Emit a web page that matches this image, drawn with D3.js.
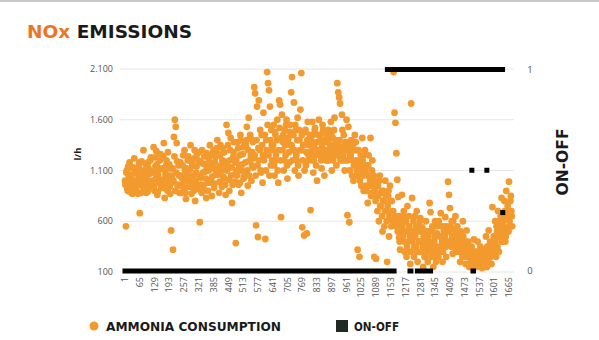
<!DOCTYPE html>
<html><head><meta charset="utf-8">
<script src="https://cdn.jsdelivr.net/npm/d3@7"></script>
<style>body{margin:0;background:#fff} svg{display:block}</style>
</head><body>
<svg id="c" width="599" height="340"></svg>
<script>
// Ammonia consumption (l/h): readings at samples 1,5,9,... (ammonia) and 3,7,11,... (ammoniaMid)
const ammoniaStep = 4;
const ammonia = [
 1000, 550,1100, 900,1050,1180, 950,1020, 870,1120,
 1220, 920,1080, 980, 870,1150, 680,1010,1190, 940,
 1300, 960,1100, 880,1040,1180, 920,1070,1230, 990,
 1000,1330, 900,1140,1290, 860,1060, 980,1200, 930,
 1120, 950,1370, 830,1050,1200, 900,1010,1160, 870,
  510,1050, 320,1430,1600,1530,1370, 950,1150, 880,
 1180, 880,1020,1250, 930,1100, 820,1060,1200, 970,
 1000,1350, 870,1150, 960,1220, 800,1080,1260, 920,
 1280, 590,1030, 880,1170, 950,1240,1090, 830,1130,
  900,1200,1350,1010, 850,1120,1300, 970,1230,1060,
 1400,1060, 880,1250,1150, 940,1320,1020,1190, 860,
 1550,1180,1470, 900,1300,1050, 780,1230,1380, 990,
  385,1100,1380, 960,1250,1450, 880,1160,1330,1040,
 1050,1350,1530, 950,1620,1200,1420,1000,1280,1130,
 1920,1860, 560,1730, 445,1790,1300,1100,1450, 980,
 1670,1250, 425,1400,2070,1960,1890,1730,1150,1350,
 1300,1550,1050,1450,1200,1600, 980,1790,1750, 640,
 1650,1380,1100,1500,1250,1600,1020,1420,1180,1550,
 1870,2020,1300,1770,1100,1500,1200,1620,1050,1400,
 1700,2060, 540,1350, 460,1480,1150, 480,1580,1250,
 1450, 710,1200,1580,1080,1350,1520,1150,1000,1300,
 1600,1250,1400,1120,1550,1300,1050,1480,1200,1380,
 1500,1200,1350,1580,1100,1420,1250,1620,1300,1150,
 1960,1870,1820,1760,1300,1650,1200,1450,1100,1380,
 1600, 660,1530, 590,1250,1400,1050,1350,1150,1450,
 1380,1100, 320,1300, 250,1200, 950,1420,1050,1250,
 1300, 950,1150, 780,1250,1050,1420, 880,1200,1000,
  250,1000, 230, 850, 950, 600,1050, 750, 900, 500,
  900, 550,1000, 700, 200, 850, 450, 950, 650, 800,
  600,2070,1670,1570,1270,1010, 840, 440, 320, 500,
  860, 450, 700, 300, 600, 250, 750, 400, 550, 180,
 1760, 830, 500, 250, 650, 350, 700, 200, 550, 400,
  630, 300, 540, 150, 450, 250, 600, 350, 200, 500,
  780, 690, 250, 550, 150, 400, 600, 200, 480, 320,
  600, 300, 680, 450, 200, 550, 350, 640, 250, 500,
  990, 860, 730, 400, 600, 280, 520, 350, 650, 450,
  550, 300, 450, 200, 500, 350, 600, 250, 400, 180,
  510, 250, 400, 150, 350, 200, 300, 140, 420, 230,
  300, 150, 400, 220, 180, 350, 250, 140, 320, 200,
  200, 450, 150, 350, 510, 250, 300, 180, 740, 400,
  350, 600, 250, 500, 700, 300, 450, 650, 830, 400,
  600, 800, 400, 900, 500, 700, 990, 550, 850, 650
];
const ammoniaMid = [
  960,1080, 920,1140,1000, 890,1060, 980,1130, 940,
 1000,1120, 900,1060, 960,1180,1030, 880,1100,1000,
 1050, 930,1160,1010, 890,1120, 980,1200, 940,1090,
 1080, 950,1230,1020,1160, 890,1110,1000,1260, 970,
 1010,1240, 930,1090,1150, 960,1280,1050, 940,1120,
  980,1120,1000,1240, 900,1080,1190, 960,1050,1170,
 1050, 950,1150,1000,1300, 880,1120,1010,1240, 940,
 1110, 960,1180,1050, 900,1300,1000,1140, 960,1200,
 1050,1190, 960,1300,1080, 900,1160,1020,1270, 980,
 1100, 980,1250,1150,1040,1280, 930,1180,1070,1320,
 1120,1260, 990,1350,1100,1200,1040,1280, 960,1150,
 1100,1350,1010,1200,1420,1130, 960,1280,1060,1180,
 1200,1050,1320,1150, 980,1400,1100,1260,1020,1350,
 1180,1400,1100,1300,1050,1450,1250,1150,1380,1220,
 1250,1050,1400,1150,1320,1200,1500,1080,1350,1250,
 1200,1450,1100,1300,1550,1250,1050,1400,1500,1200,
 1350,1150,1480,1250,1400,1100,1300,1520,1200,1420,
 1300,1450,1200,1350,1550,1150,1400,1280,1480,1350,
 1350,1200,1450,1300,1550,1250,1400,1150,1500,1300,
 1300,1450,1200,1350,1100,1500,1280,1400,1200,1350,
 1250,1400,1300,1450,1200,1500,1250,1380,1300,1450,
 1300,1450,1200,1350,1500,1250,1400,1300,1450,1200,
 1400,1250,1300,1450,1350,1200,1500,1300,1400,1250,
 1350,1250,1400,1200,1300,1500,1250,1350,1200,1300,
 1300,1200,1350,1100,1250,1300,1200,1000,1300,1150,
 1200,1050,1300,1150,1000,1250,1100,1200, 900,1150,
 1100, 900,1050,1150, 950,1000, 850,1100, 950,1050,
  900, 800, 950, 700, 850,1000, 750, 880, 650, 800,
  800, 700, 850, 600, 750, 900, 650, 800, 550, 700,
  700, 600, 650, 550, 600, 500, 650, 400, 550, 600,
  550, 650, 400, 500, 600, 350, 500, 650, 450, 300,
  500, 400, 600, 350, 450, 550, 300, 500, 400, 600,
  400, 500, 350, 450, 250, 400, 500, 300, 450, 350,
  400, 300, 500, 350, 250, 450, 300, 550, 350, 250,
  450, 350, 550, 400, 300, 500, 450, 350, 550, 400,
  500, 400, 550, 350, 450, 600, 400, 500, 300, 450,
  400, 350, 450, 300, 400, 250, 450, 350, 300, 400,
  300, 350, 250, 300, 200, 350, 250, 300, 200, 280,
  250, 200, 300, 250, 180, 280, 220, 300, 200, 250,
  300, 250, 350, 200, 300, 400, 250, 350, 300, 450,
  450, 400, 550, 350, 500, 600, 450, 550, 400, 500,
  550, 700, 450, 650, 750, 500, 600, 800, 700, 550
];
// ON-OFF state: runs [fromSample, toSample, value] and isolated readings [sample, value]
const onOffRuns = [[1,1167,0],[1138,1637,1],[1236,1240,0],[1268,1325,0],[1509,1511,0]];
const onOffSingles = [[1504,0.5],[1569,0.5],[1638,0.29]];
const leftTicks = [100,600,1100,1600,2100];
const rightTicks = [0,1];
const xTickLabels = [1,65,129,193,257,321,385,449,513,577,641,705,769,833,897,961,1025,1089,1153,1217,1281,1345,1409,1473,1537,1601,1665];

const orange = "#F39A2E";
const svg = d3.select("#c");
const font = "'Open Sans', sans-serif";
const boldFont = "'DejaVu Sans', sans-serif";

svg.append("rect").attr("x",0).attr("y",0).attr("width",599).attr("height",2).attr("fill","#c9c9c9");

const x = d3.scaleLinear().domain([1,1665]).range([125,509]);
const yL = d3.scaleLinear().domain([100,2100]).range([272,69]);
const yR = d3.scaleLinear().domain([0,1]).range([271,69.5]);

// title
const t = svg.append("text").attr("x",27).attr("y",38).attr("font-family",boldFont).attr("font-weight",700)
  .attr("font-size",17.5).attr("textLength",165).attr("lengthAdjust","spacingAndGlyphs");
t.append("tspan").attr("fill","#EC7524").text("NOx");
t.append("tspan").attr("fill","#1a1a1a").text(" EMISSIONS");

// gridlines
svg.append("g").selectAll("line").data(leftTicks).join("line")
  .attr("x1",120).attr("x2",514).attr("y1",d=>yL(d)).attr("y2",d=>yL(d))
  .attr("stroke","#e6e6e6").attr("stroke-width",1);

const fmt = d3.formatLocale({decimal:",",thousands:".",grouping:[3],currency:["",""]}).format(",");
svg.append("g").selectAll("text").data(leftTicks).join("text")
  .attr("x",113).attr("y",d=>yL(d)).attr("dy","0.35em").attr("text-anchor","end")
  .attr("font-family",font).attr("font-size",9).attr("fill","#555").text(d=>fmt(d));
svg.append("g").selectAll("text").data(rightTicks).join("text")
  .attr("x",530).attr("y",d=>yR(d)).attr("dy","0.35em").attr("text-anchor","middle")
  .attr("font-family",font).attr("font-size",9.5).attr("fill","#555").text(d=>d);
svg.append("g").selectAll("text").data(xTickLabels).join("text")
  .attr("transform",d=>`translate(${x(d)},277) rotate(-90)`).attr("dy","0.35em").attr("text-anchor","end")
  .attr("font-family",font).attr("font-size",9).attr("fill","#555").text(d=>d);

svg.append("text").attr("transform","translate(78,154) rotate(-90)").attr("dy","0.35em").attr("text-anchor","middle")
  .attr("font-family",font).attr("font-weight",700).attr("font-size",9.5).attr("fill","#1a1a1a").text("l/h");
svg.append("text").attr("transform","translate(563,162) rotate(-90)").attr("dy","0.35em").attr("text-anchor","middle")
  .attr("font-family",boldFont).attr("font-weight",700).attr("font-size",15.5).attr("fill","#1a1a1a").text("ON-OFF");

// ammonia dots
const pts = ammonia.map((v,i)=>({s:1+i*ammoniaStep, v}))
  .concat(ammoniaMid.map((v,i)=>({s:3+i*ammoniaStep, v})));
svg.append("g").selectAll("circle").data(pts).join("circle")
  .attr("cx",d=>x(d.s)).attr("cy",d=>yL(d.v)).attr("r",3.4).attr("fill",orange);

// on-off
const sq = 5;
svg.append("g").selectAll("rect").data(onOffRuns).join("rect")
  .attr("x",d=>x(d[0])-sq/2).attr("width",d=>x(d[1])-x(d[0])+sq)
  .attr("y",d=>yR(d[2])-sq/2).attr("height",sq).attr("fill","#000");
svg.append("g").selectAll("rect").data(onOffSingles).join("rect")
  .attr("x",d=>x(d[0])-sq/2).attr("width",sq)
  .attr("y",d=>yR(d[1])-sq/2).attr("height",sq).attr("fill","#000");

// legend
svg.append("circle").attr("cx",94).attr("cy",326).attr("r",4.5).attr("fill",orange);
svg.append("text").attr("x",106).attr("y",330.5).attr("font-family",boldFont).attr("font-weight",700).attr("font-size",12)
  .attr("textLength",175).attr("lengthAdjust","spacingAndGlyphs").attr("fill","#1a1a1a").text("AMMONIA CONSUMPTION");
svg.append("rect").attr("x",336).attr("y",320).attr("width",12).attr("height",12).attr("fill","#1f2a24");
svg.append("text").attr("x",354).attr("y",330.5).attr("font-family",boldFont).attr("font-weight",700).attr("font-size",12)
  .attr("textLength",45).attr("lengthAdjust","spacingAndGlyphs").attr("fill","#1a1a1a").text("ON-OFF");
</script>
</body></html>
